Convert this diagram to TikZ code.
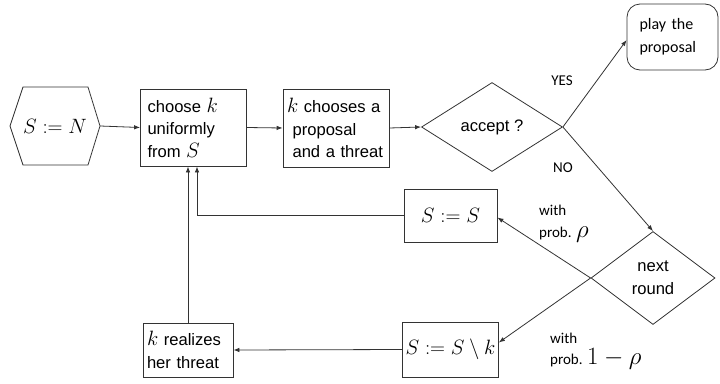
\documentclass[tikz,border=0pt]{standalone}
\usepackage{fontspec}
\setmainfont{Liberation Sans}
\newfontfamily\calib{Carlito}
\usetikzlibrary{shapes.geometric,arrows.meta}
\newcommand\mth[1]{{\fontsize{20}{22}\selectfont$#1$}}
\newcommand\lgmth[1]{{\fontsize{23}{24}\selectfont$#1$}}
\begin{document}
\begin{tikzpicture}[x=1pt,y=-1pt,
  line/.style={draw=black!80,line width=0.8pt},
  arr/.style={line,-{Latex[length=6pt,width=4.5pt]}},
  boxnode/.style={draw=black!80,line width=0.8pt,rectangle,inner sep=3pt,
    font=\fontsize{16.6}{22.5}\selectfont,align=left},
  dnode/.style={draw=black!80,line width=0.8pt,diamond,inner sep=0pt,
    font=\fontsize{16.6}{23}\selectfont,align=center},
  lbl/.style={font=\calib\fontsize{15}{24}\selectfont,align=left,inner sep=0pt}]
\useasboundingbox (0,0) rectangle (720,383);
% hexagon
\node (hex) [minimum width=90pt,minimum height=78pt,inner sep=0pt] at (55,126) {\mth{S:=N}};
\draw[line] (10,126) -- (23,87) -- (88,87) -- (100,126) -- (88,165) -- (23,165) -- cycle;
\node (choose) [boxnode,minimum width=106pt,minimum height=77pt,text width=92pt] at (193.5,127.5)
  {choose \mth{k}\\uniformly\\from \mth{S}};
\node (kch) [boxnode,minimum width=106pt,minimum height=78pt,text width=98pt] at (336,128)
  {\mth{k} chooses a\\\ proposal\\\ and a threat};
\node (accept) [dnode,minimum width=141pt,minimum height=89pt] at (492,127) {accept ?};
\node (play) [draw=black!80,line width=0.8pt,rounded corners=13pt,minimum width=91pt,minimum height=66pt,
  font=\calib\fontsize{16}{23}\selectfont,align=left,text width=66pt] at (672.5,37) {\hspace*{0pt}play the\\proposal};
\node (next) [dnode,minimum width=124pt,minimum height=93pt] at (653,278) {next\\round};
\node (SS) [boxnode,minimum width=93pt,minimum height=53pt,align=center] at (450.5,215.5) {\mth{S:=S}};
\node (SSk) [boxnode,minimum width=93pt,minimum height=55pt,align=center] at (450.5,349.5) {\mth{S:=S\setminus k}};
\node (real) [boxnode,minimum width=90pt,minimum height=54pt,text width=82pt] at (188,350)
  {\mth{k} realizes\\her threat};
% labels
\node (yes) [lbl] at (562,81) {YES};
\node (no) [lbl] at (563,168) {NO};
\node (p1) [lbl,anchor=north west] at (539,205) {with\\[-2pt]prob. \lgmth{\rho}};
\node (p2) [lbl,anchor=north west] at (550,333) {with\\[-3pt]prob. \lgmth{1-\rho}};
% connectors
\draw[arr] (hex.east) -- (choose.west);
\draw[arr] (choose.east) -- (kch.west);
\draw[arr] (kch.east) -- (accept.west);
\draw[arr] (accept.east) -- ([yshift=-3pt]play.west);
\draw[arr] (accept.east) -- (next.north);
\draw[arr] (next.west) -- ([yshift=-2pt]SS.east);
\draw[arr] (next.west) -- ([yshift=7pt]SSk.east);
\draw[arr] (SSk.west) -- (real.east);
\draw[arr] (real.north) -- (real.north |- choose.south);
\draw[arr] (SS.west) -| ([xshift=3.5pt]choose.south);
\end{tikzpicture}
\end{document}
